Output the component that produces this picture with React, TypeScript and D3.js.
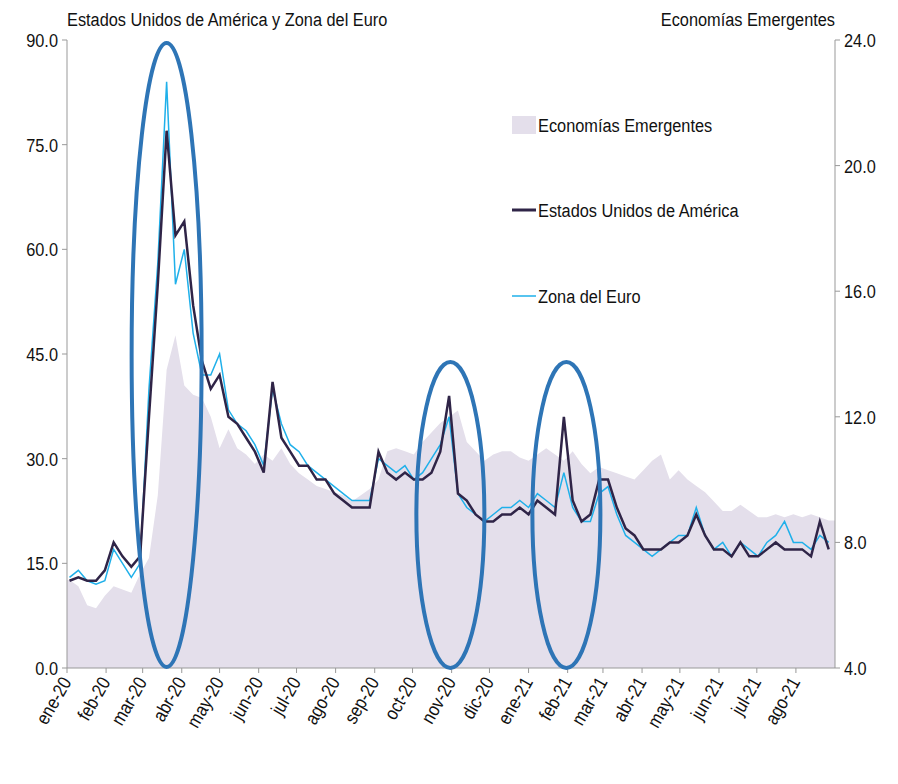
import * as d3 from "d3";

const usa = [12.5, 13, 12.5, 12.5, 14, 18, 16, 14.5, 16, 36, 55, 77, 62, 64, 52, 44, 40, 42, 36, 35, 33, 31, 28, 41, 33, 31, 29, 29, 27, 27, 25, 24, 23, 23, 23, 31, 28, 27, 28, 27, 27, 28, 31, 39, 25, 24, 22, 21, 21, 22, 22, 23, 22, 24, 23, 22, 36, 24, 21, 22, 27, 27, 23, 20, 19, 17, 17, 17, 18, 18, 19, 22, 19, 17, 17, 16, 18, 16, 16, 17, 18, 17, 17, 17, 16, 21, 17];
const euro = [13, 14, 12.5, 12, 12.5, 17, 15, 13, 15, 40, 58, 84, 55, 60, 48, 42, 42, 45, 37, 35, 34, 32, 29, 40, 35, 32, 31, 29, 28, 27, 26, 25, 24, 24, 24, 30, 29, 28, 29, 27, 28, 30, 32, 36, 25, 23, 22, 21, 22, 23, 23, 24, 23, 25, 24, 23, 28, 23, 21, 21, 25, 26, 22, 19, 18, 17, 16, 17, 18, 19, 19, 23, 19, 17, 18, 16, 18, 17, 16, 18, 19, 21, 18, 18, 17, 19, 18];
const emerging = [6.8, 6.6, 6.0, 5.9, 6.3, 6.6, 6.5, 6.4, 7.0, 7.5, 9.5, 13.5, 14.6, 13.0, 12.7, 12.6, 12.0, 11.0, 11.6, 11.0, 10.8, 10.5, 10.8, 10.6, 11.0, 10.5, 10.2, 10.0, 9.8, 9.7, 9.6, 9.5, 9.3, 9.5, 9.7, 10.0, 10.9, 11.0, 10.9, 10.8, 11.2, 11.5, 11.8, 12.0, 12.2, 11.2, 10.9, 10.6, 10.8, 10.9, 10.9, 10.7, 10.6, 10.8, 11.0, 10.8, 10.6, 10.9, 10.5, 10.2, 10.4, 10.3, 10.2, 10.1, 10.0, 10.3, 10.6, 10.8, 10.0, 10.3, 10.0, 9.8, 9.6, 9.3, 9.0, 9.0, 9.2, 9.0, 8.8, 8.8, 8.9, 8.8, 8.9, 8.8, 8.9, 8.8, 8.7];
const monthLabels = ["ene-20", "feb-20", "mar-20", "abr-20", "may-20", "jun-20", "jul-20", "ago-20", "sep-20", "oct-20", "nov-20", "dic-20", "ene-21", "feb-21", "mar-21", "abr-21", "may-21", "jun-21", "jul-21", "ago-21"];
const leftTicks = [0, 15, 30, 45, 60, 75, 90];
const rightTicks = [4, 8, 12, 16, 20, 24];
const highlights = [new Date(2020, 2, 20), new Date(2020, 9, 31), new Date(2021, 0, 31)];

const FONT = "'Liberation Sans', Arial, sans-serif";
const SX = 0.86;

function Txt({ x, y, anchor = "start", size = 19, rotate = 0, children }: { x: number; y: number; anchor?: string; size?: number; rotate?: number; children: any }) {
  return (
    <text transform={`translate(${x},${y}) rotate(${rotate}) scale(${SX},1)`} textAnchor={anchor} fontSize={size} fill="#111">
      {children}
    </text>
  );
}

export default function App() {
  const W = 898, H = 784;
  const L = 67, R = 835, T = 40, B = 668;
  const start = new Date(2020, 0, 1);
  const end = new Date(2021, 8, 1);
  const x = d3.scaleTime().domain([start, end]).range([L, R]);
  const yL = d3.scaleLinear().domain([0, 90]).range([B, T]);
  const yR = d3.scaleLinear().domain([4, 24]).range([B, T]);
  const dateAt = (i: number) => d3.timeDay.offset(new Date(2020, 0, 3), i * 7);

  const emPts: [Date, number][] = emerging.map((v, i) => [dateAt(i), v]);
  emPts.unshift([start, emerging[0]]);
  emPts.push([end, emerging[emerging.length - 1]]);
  const area = d3.area<[Date, number]>().x((d) => x(d[0])).y0(B).y1((d) => yR(d[1]));
  const line = d3.line<number>().x((_, i) => x(dateAt(i))).y((d) => yL(d));
  const months = monthLabels.map((_, i) => d3.timeMonth.offset(start, i));

  return (
    <svg width={W} height={H} style={{ position: "absolute", left: 0, top: 0, background: "#fff" }} fontFamily={FONT}>
      <path d={area(emPts) ?? ""} fill="#e4dfeb" />
      <path d={line(euro) ?? ""} fill="none" stroke="#1fb0ea" strokeWidth={1.5} />
      <path d={line(usa) ?? ""} fill="none" stroke="#2f2447" strokeWidth={2.5} />

      <line x1={L} x2={L} y1={T} y2={B} stroke="#999" />
      <line x1={R} x2={R} y1={T} y2={B} stroke="#999" />
      <line x1={L} x2={R} y1={B} y2={B} stroke="#999" />
      {leftTicks.map((t) => (
        <g key={"l" + t}>
          <line x1={L - 5} x2={L} y1={yL(t)} y2={yL(t)} stroke="#999" />
          <Txt x={L - 9} y={yL(t) + 7} anchor="end">{t.toFixed(1)}</Txt>
        </g>
      ))}
      {rightTicks.map((t) => (
        <g key={"r" + t}>
          <line x1={R} x2={R + 5} y1={yR(t)} y2={yR(t)} stroke="#999" />
          <Txt x={R + 9} y={yR(t) + 7}>{t.toFixed(1)}</Txt>
        </g>
      ))}
      {months.map((m, i) => (
        <g key={"m" + i}>
          <line x1={x(m)} x2={x(m)} y1={B} y2={B + 5} stroke="#999" />
          <Txt x={x(m) + 5} y={B + 14} anchor="end" size={19} rotate={-60}>{monthLabels[i]}</Txt>
        </g>
      ))}

      <Txt x={67} y={26}>Estados Unidos de América y Zona del Euro</Txt>
      <Txt x={835} y={26} anchor="end">Economías Emergentes</Txt>

      <rect x={512} y={116} width={24} height={18} fill="#e4dfeb" />
      <Txt x={538} y={132}>Economías Emergentes</Txt>
      <line x1={512} x2={536} y1={210} y2={210} stroke="#2f2447" strokeWidth={3} />
      <Txt x={538} y={217}>Estados Unidos de América</Txt>
      <line x1={512} x2={536} y1={296} y2={296} stroke="#1fb0ea" strokeWidth={1.5} />
      <Txt x={538} y={303}>Zona del Euro</Txt>

      {highlights.map((d, i) => (
        <ellipse key={"h" + i} cx={x(d)} cy={i === 0 ? 355 : 515} rx={i === 0 ? 35 : 34} ry={i === 0 ? 312 : 153} fill="none" stroke="#2e75b6" strokeWidth={4} />
      ))}
    </svg>
  );
}
